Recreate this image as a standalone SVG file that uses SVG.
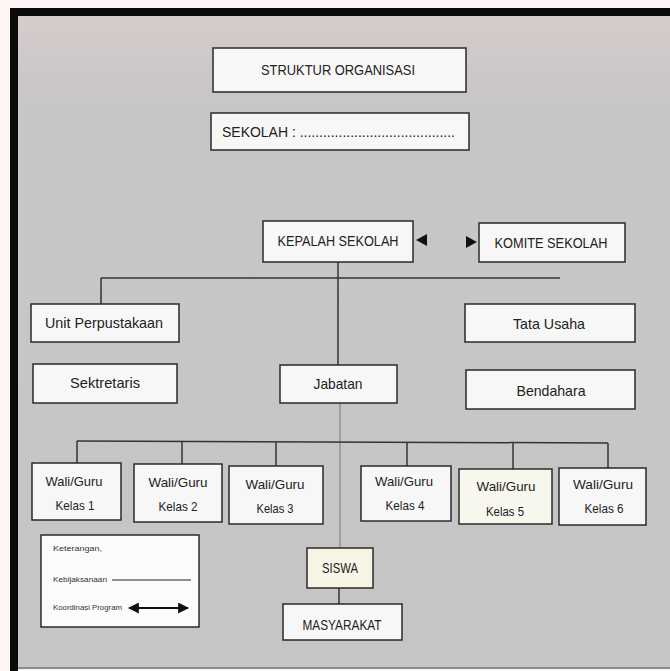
<svg xmlns="http://www.w3.org/2000/svg" width="670" height="671" viewBox="0 0 670 671">
<defs>
<style>
.box{fill:#f7f7f7;stroke:#2a2a2a;stroke-width:1.5}
.t{font-family:"Liberation Sans",Arial,sans-serif;fill:#222;text-anchor:middle}
.m{font-size:15px}
.w{font-size:13px}
.lg{font-family:"Liberation Sans",Arial,sans-serif;font-size:7px;fill:#333}
.ln{stroke:#333;stroke-width:1.5;fill:none}
.fl{stroke:#777;stroke-width:1;fill:none}
</style>
<linearGradient id="bg" x1="0" y1="0" x2="0" y2="1">
<stop offset="0" stop-color="#d6cccc"/>
<stop offset="0.12" stop-color="#c9c6c6"/>
<stop offset="1" stop-color="#c5c5c5"/>
</linearGradient>
<marker id="ah" viewBox="0 0 10 10" refX="9" refY="5" markerWidth="5.5" markerHeight="5.5" orient="auto-start-reverse">
<path d="M0,0 L10,5 L0,10 z" fill="#111"/>
</marker>
</defs>
<rect x="0" y="0" width="670" height="671" fill="#fdf4f4"/>
<rect x="18" y="16" width="652" height="652" fill="url(#bg)"/>
<rect x="10" y="8" width="660" height="8" fill="#0a0a0a"/>
<rect x="10" y="8" width="8" height="663" fill="#0a0a0a"/>
<rect x="18" y="667" width="652" height="2" fill="#8a8a8a"/>

<g id="connectors">
<line class="ln" x1="338" y1="262" x2="338" y2="365"/>
<line class="ln" x1="101" y1="278" x2="560" y2="278"/>
<line class="ln" x1="101" y1="278" x2="101" y2="304"/>
<line class="fl" x1="340" y1="403" x2="340" y2="548"/>
<line class="ln" x1="77" y1="441" x2="608" y2="443"/>
<line class="ln" x1="77" y1="441" x2="77" y2="463"/>
<line class="ln" x1="182" y1="441" x2="182" y2="464"/>
<line class="ln" x1="276" y1="442" x2="276" y2="466"/>
<line class="ln" x1="407" y1="442" x2="407" y2="466"/>
<line class="ln" x1="513" y1="443" x2="513" y2="469"/>
<line class="ln" x1="608" y1="443" x2="608" y2="468"/>
<line class="ln" x1="339" y1="588" x2="339" y2="604"/>
<polygon points="416,240 427,234 427,246" fill="#111"/>
<polygon points="477,242 466,236 466,248" fill="#111"/>
</g>

<g id="struktur">
<rect class="box" x="213" y="48" width="253" height="44"/>
<text class="t" x="338" y="75" font-size="15" textLength="154" lengthAdjust="spacingAndGlyphs">STRUKTUR ORGANISASI</text>
</g>
<g id="sekolah">
<rect class="box" x="211" y="113" width="258" height="37"/>
<text class="t" x="222" y="137" font-size="14" style="text-anchor:start" textLength="233" lengthAdjust="spacingAndGlyphs">SEKOLAH : ........................................</text>
</g>
<g id="kepala">
<rect class="box" x="263" y="221" width="150" height="41"/>
<text class="t m" x="338" y="246" textLength="121" lengthAdjust="spacingAndGlyphs">KEPALAH SEKOLAH</text>
</g>
<g id="komite">
<rect class="box" x="479" y="223" width="146" height="39"/>
<text class="t m" x="551" y="248" textLength="113" lengthAdjust="spacingAndGlyphs">KOMITE SEKOLAH</text>
</g>
<g id="unit">
<rect class="box" x="31" y="304" width="148" height="38"/>
<text class="t m" x="104" y="328" textLength="118" lengthAdjust="spacingAndGlyphs">Unit Perpustakaan</text>
</g>
<g id="tatausaha">
<rect class="box" x="465" y="304" width="170" height="38"/>
<text class="t m" x="549" y="329" textLength="72" lengthAdjust="spacingAndGlyphs">Tata Usaha</text>
</g>
<g id="sektretaris">
<rect class="box" x="33" y="364" width="144" height="39"/>
<text class="t m" x="105" y="388" textLength="70" lengthAdjust="spacingAndGlyphs">Sektretaris</text>
</g>
<g id="jabatan">
<rect class="box" x="280" y="365" width="117" height="38"/>
<text class="t m" x="338" y="389" textLength="49" lengthAdjust="spacingAndGlyphs">Jabatan</text>
</g>
<g id="bendahara">
<rect class="box" x="466" y="370" width="169" height="39"/>
<text class="t m" x="551" y="396" textLength="69" lengthAdjust="spacingAndGlyphs">Bendahara</text>
</g>
<g id="kelas1">
<rect class="box" x="32" y="463" width="89" height="57"/>
<text class="t w" x="74" y="486" textLength="57" lengthAdjust="spacingAndGlyphs">Wali/Guru</text>
<text class="t w" x="75" y="510" textLength="39" lengthAdjust="spacingAndGlyphs">Kelas 1</text>
</g>
<g id="kelas2">
<rect class="box" x="134" y="464" width="88" height="58"/>
<text class="t w" x="178" y="487" textLength="59" lengthAdjust="spacingAndGlyphs">Wali/Guru</text>
<text class="t w" x="178" y="511" textLength="39" lengthAdjust="spacingAndGlyphs">Kelas 2</text>
</g>
<g id="kelas3">
<rect class="box" x="229" y="466" width="94" height="58"/>
<text class="t w" x="275" y="489" textLength="59" lengthAdjust="spacingAndGlyphs">Wali/Guru</text>
<text class="t w" x="275" y="513" textLength="37" lengthAdjust="spacingAndGlyphs">Kelas 3</text>
</g>
<g id="kelas4">
<rect class="box" x="361" y="466" width="90" height="55"/>
<text class="t w" x="404" y="486" textLength="58" lengthAdjust="spacingAndGlyphs">Wali/Guru</text>
<text class="t w" x="405" y="510" textLength="39" lengthAdjust="spacingAndGlyphs">Kelas 4</text>
</g>
<g id="kelas5">
<rect class="box" x="459" y="469" width="93" height="55" style="fill:#f8f7ee"/>
<text class="t w" x="506" y="491" textLength="59" lengthAdjust="spacingAndGlyphs">Wali/Guru</text>
<text class="t w" x="505" y="516" textLength="38" lengthAdjust="spacingAndGlyphs">Kelas 5</text>
</g>
<g id="kelas6">
<rect class="box" x="559" y="468" width="87" height="57"/>
<text class="t w" x="603" y="489" textLength="60" lengthAdjust="spacingAndGlyphs">Wali/Guru</text>
<text class="t w" x="604" y="513" textLength="39" lengthAdjust="spacingAndGlyphs">Kelas 6</text>
</g>
<g id="siswa">
<rect class="box" x="307" y="548" width="66" height="40" style="fill:#f8f5e6"/>
<text class="t m" x="340" y="573" textLength="36" lengthAdjust="spacingAndGlyphs">SISWA</text>
</g>
<g id="masyarakat">
<rect class="box" x="283" y="604" width="119" height="36"/>
<text class="t m" x="342" y="630" textLength="79" lengthAdjust="spacingAndGlyphs">MASYARAKAT</text>
</g>
<g id="legend">
<rect class="box" x="41" y="535" width="158" height="92" style="fill:#fbfbfb"/>
<text class="lg" x="53" y="551" textLength="49" lengthAdjust="spacingAndGlyphs">Keterangan,</text>
<text class="lg" x="53" y="582" textLength="54" lengthAdjust="spacingAndGlyphs">Kebijaksanaan</text>
<line x1="112" y1="580" x2="191" y2="580" stroke="#222" stroke-width="1"/>
<text class="lg" x="53" y="610" textLength="69" lengthAdjust="spacingAndGlyphs">Koordinasi Program</text>
<line x1="129" y1="608" x2="188" y2="608" stroke="#111" stroke-width="2" marker-start="url(#ah)" marker-end="url(#ah)"/>
</g>
</svg>
